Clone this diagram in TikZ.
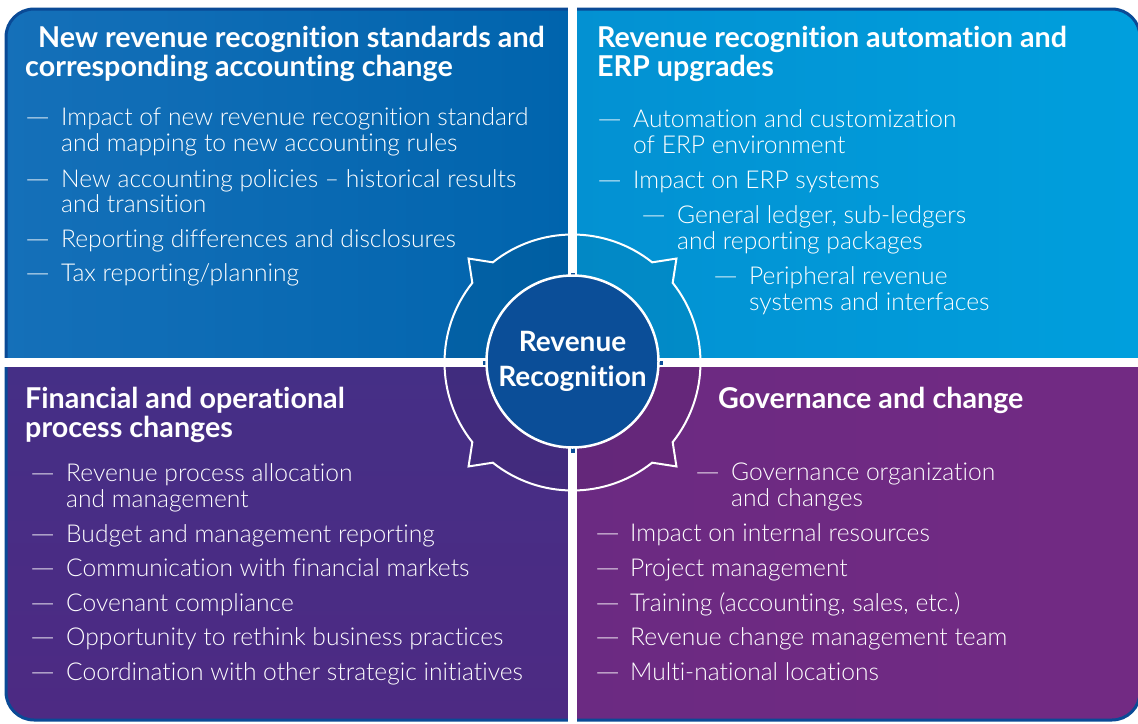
\documentclass[tikz,border=0pt]{standalone}
\usepackage{fontspec}
\IfFontExistsTF{Lato Light}{\setmainfont{Lato Light}[BoldFont=Lato Bold, RawFeature={-liga;-dlig;-clig}]}{\setmainfont{Liberation Sans}}
\definecolor{tlA}{HTML}{1570B9}
\definecolor{tlB}{HTML}{0064AD}
\definecolor{trA}{HTML}{0391D2}
\definecolor{trB}{HTML}{009FDD}
\definecolor{blA}{HTML}{452F86}
\definecolor{blB}{HTML}{4D2A83}
\definecolor{brA}{HTML}{6B2A82}
\definecolor{brB}{HTML}{722A83}
\definecolor{coreblue}{HTML}{0B4E98}
\definecolor{edgeblue}{HTML}{0A4A96}
\newcommand\titlefont{\bfseries\fontsize{28.7}{29}\selectfont}
\newcommand\bodyfont{\fontsize{24.6}{26}\selectfont}
\newcommand\dash{\scalebox{1.3}[1]{—}}
\def\myring{(51.5:128) arc[start angle=51.5,end angle=128.5,radius=128] -- (135:147) -- (141.5:128)
 arc[start angle=141.5,end angle=218.5,radius=128] -- (225:147) -- (231.5:128)
 arc[start angle=231.5,end angle=308.5,radius=128] -- (315:147) -- (321.5:128)
 arc[start angle=321.5,end angle=398.5,radius=128] -- (45:147) -- cycle}
\tikzset{
  txt/.style={anchor=base west, inner sep=0pt, text=white, font=\bodyfont},
  ttl/.style={anchor=base west, inner sep=0pt, text=white, font=\titlefont},
  band/.style={fill=white},
}
\begin{document}
\begin{tikzpicture}[x=1pt,y=-1pt]
\useasboundingbox (0,0) rectangle (1138,723);
\fill[white] (0,0) rectangle (1138,723);
% quadrants
\begin{scope}
\clip[rounded corners=28pt] (6,9) rectangle (1140,720);
\shade[left color=tlA, right color=tlB] (0,0) rectangle (572.5,362.5);
\shade[left color=trA, right color=trB] (572.5,0) rectangle (1140,362.5);
\shade[top color=blA, bottom color=blB] (0,362.5) rectangle (572.5,723);
\shade[left color=brA, right color=brB] (572.5,362.5) rectangle (1140,723);
\end{scope}
\draw[edgeblue, line width=3pt, rounded corners=28pt] (6,9) rectangle (1140,720);
% ring darkening
\begin{scope}[shift={(572.5,362.5)}]
\fill[black, opacity=0.06, even odd rule] \myring (0,0) circle (86);
\end{scope}
% white bands
\fill[band] (568,0) rectangle (577,723);
\fill[band] (0,358) rectangle (1138,367);
% ring and core
\begin{scope}[shift={(572.5,362.5)}]
\draw[white, line width=2pt, line join=miter] \myring;
\fill[coreblue] (-2,-90) rectangle (2,-82);
\fill[coreblue] (-2,90) rectangle (2,82);
\fill[coreblue] (-90,-2) rectangle (-82,2);
\fill[coreblue] (90,-2) rectangle (82,2);
\node[circle, fill=coreblue, draw=white, line width=2.5pt, minimum size=172pt, inner sep=0pt,
  text=white, align=center, font=\bfseries\fontsize{28}{35}\selectfont] (core) at (0,-1) {Revenue\\Recognition};
\end{scope}
% top-left
\node[ttl] (t1a) at (38,47) {New revenue recognition standards and};
\node[ttl] (t1b) at (25,76) {corresponding accounting change};
\node[txt] (d11) at (25,125) {\dash};
\node[txt] (l11) at (61,125) {Impact of new revenue recognition standard};
\node[txt] (l12) at (61,151) {and mapping to new accounting rules};
\node[txt] (d12) at (25,187) {\dash};
\node[txt] (l13) at (61,187) {New accounting policies – historical results};
\node[txt] (l14) at (61,212) {and transition};
\node[txt] (d13) at (25,247) {\dash};
\node[txt] (l15) at (61,247) {Reporting differences and disclosures};
\node[txt] (d14) at (25,281) {\dash};
\node[txt] (l16) at (61,281) {Tax reporting/planning};
% top-right
\node[ttl] (t2a) at (597,47) {Revenue recognition automation and};
\node[ttl] (t2b) at (597,76) {ERP upgrades};
\node[txt] (d21) at (597,127) {\dash};
\node[txt] (l21) at (633,127) {Automation and customization};
\node[txt] (l22) at (633,153) {of ERP environment};
\node[txt] (d22) at (597,188) {\dash};
\node[txt] (l23) at (633,188) {Impact on ERP systems};
\node[txt] (d23) at (641,223) {\dash};
\node[txt] (l24) at (677,223) {General ledger, sub-ledgers};
\node[txt] (l25) at (677,249) {and reporting packages};
\node[txt] (d24) at (713,284) {\dash};
\node[txt] (l26) at (749,284) {Peripheral revenue};
\node[txt] (l27) at (749,310) {systems and interfaces};
% bottom-left
\node[ttl] (t3a) at (25,408) {Financial and operational};
\node[ttl] (t3b) at (25,437) {process changes};
\node[txt] (d31) at (30,481) {\dash};
\node[txt] (l31) at (66,481) {Revenue process allocation};
\node[txt] (l32) at (66,507) {and management};
\node[txt] (d32) at (30,542) {\dash};
\node[txt] (l33) at (66,542) {Budget and management reporting};
\node[txt] (d33) at (30,576) {\dash};
\node[txt] (l34) at (66,576) {Communication with financial markets};
\node[txt] (d34) at (30,611) {\dash};
\node[txt] (l35) at (66,611) {Covenant compliance};
\node[txt] (d35) at (30,645) {\dash};
\node[txt] (l36) at (66,645) {Opportunity to rethink business practices};
\node[txt] (d36) at (30,680) {\dash};
\node[txt] (l37) at (66,680) {Coordination with other strategic initiatives};
% bottom-right
\node[ttl] (t4a) at (718,408) {Governance and change};
\node[txt] (d41) at (695,480) {\dash};
\node[txt] (l41) at (731,480) {Governance organization};
\node[txt] (l42) at (731,506) {and changes};
\node[txt] (d42) at (595,541) {\dash};
\node[txt] (l43) at (630,541) {Impact on internal resources};
\node[txt] (d43) at (595,576) {\dash};
\node[txt] (l44) at (630,576) {Project management};
\node[txt] (d44) at (595,611) {\dash};
\node[txt] (l45) at (630,611) {Training (accounting, sales, etc.)};
\node[txt] (d45) at (595,645) {\dash};
\node[txt] (l46) at (630,645) {Revenue change management team};
\node[txt] (d46) at (595,680) {\dash};
\node[txt] (l47) at (630,680) {Multi-national locations};
\end{tikzpicture}
\end{document}
